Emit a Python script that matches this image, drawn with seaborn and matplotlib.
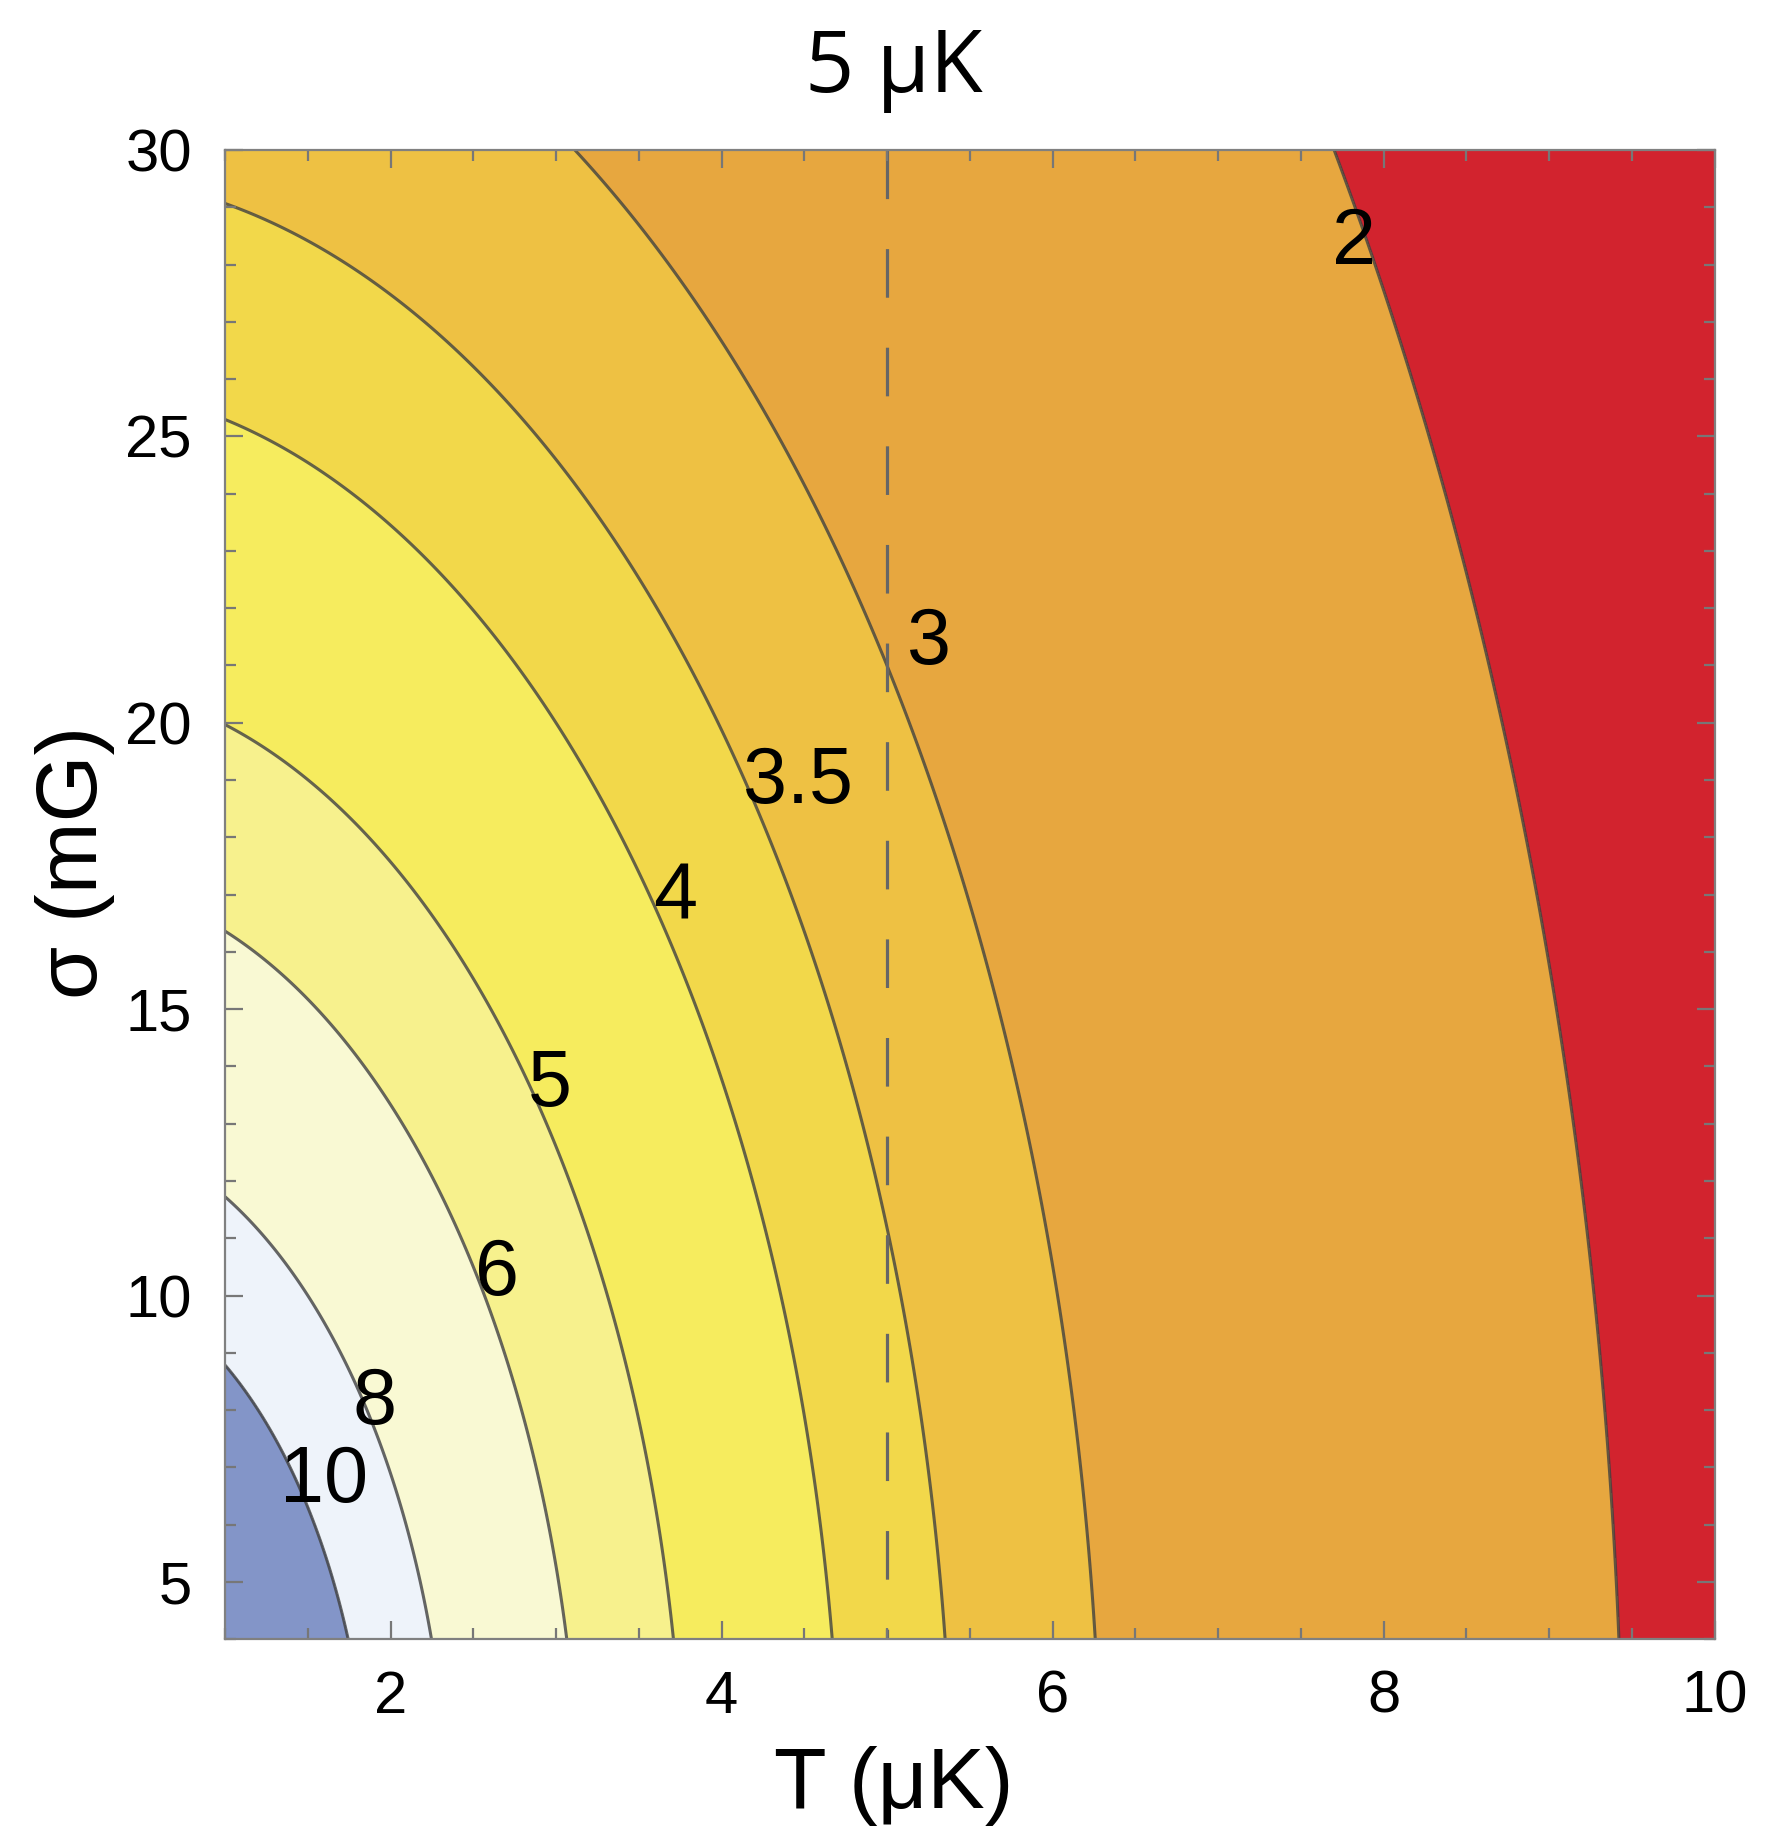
import numpy as np
import matplotlib
matplotlib.use("Agg")
import matplotlib.pyplot as plt
import seaborn as sns

# ---- data ----
T_limits = [1, 10]           # T (μK)
sigma_limits = [4, 30]       # σ (mG)
amplitude = 18.9
sigma_scale = 30.0
levels = [2, 3, 3.5, 4, 5, 6, 8, 10]
level_labels = ["2", "3", "3.5", "4", "5", "6", "8", "10"]
band_colors = ["#D2232E", "#E7A73F", "#EEC143", "#F2D84A", "#F6EC5E",
               "#F7F18D", "#F9F9D3", "#EEF3FA", "#8395C8"]
label_T = [7.82, 5.25, 4.46, 3.72, 2.96, 2.64, 1.90, 1.60]
label_sigma = [28.37, 21.38, 18.95, 16.94, 13.67, 10.36, 8.11, 6.76]
x_major = [2, 4, 6, 8, 10]
y_major = [5, 10, 15, 20, 25, 30]
marker_T = 5
title = "5 μK"
xlabel = "T (μK)"
ylabel = "σ (mG)"

sns.set_theme(style="ticks")
plt.rcParams["font.family"] = ["Liberation Sans", "DejaVu Sans"]
plt.rcParams["lines.scale_dashes"] = False
plt.rcParams["text.color"] = "black"

fig = plt.figure(figsize=(17.87, 18.47), dpi=100)
ax = fig.add_axes([0.126, 0.1125, 0.8335, 0.8063])
ax.set_axisbelow(False)

T = np.linspace(T_limits[0], T_limits[1], 600)
S = np.linspace(sigma_limits[0], sigma_limits[1], 600)
TT, SS = np.meshgrid(T, S)
Z = amplitude / np.sqrt(TT**2 + SS**2 / sigma_scale)

fill_levels = [Z.min() - 1] + levels + [Z.max() + 1]
ax.contourf(TT, SS, Z, levels=fill_levels, colors=band_colors, zorder=0.2)
ax.contour(TT, SS, Z, levels=levels, colors="#404040", linewidths=2.2, alpha=0.8,
           zorder=0.3)

for txt, tx, sy in zip(level_labels, label_T, label_sigma):
    ax.text(tx, sy, txt, fontsize=57, ha="center", va="center", color="black",
            zorder=4)

ax.plot([marker_T, marker_T], [sigma_limits[1], sigma_limits[0]], color="#666666",
        lw=2.3, dashes=(35, 36), zorder=0.4)

ax.set_xlim(*T_limits)
ax.set_ylim(*sigma_limits)
ax.set_xticks(x_major)
ax.set_yticks(y_major)
ax.set_xticks(np.arange(1, 10.01, 0.5), minor=True)
ax.set_yticks(np.arange(4, 30.01, 1), minor=True)
ax.tick_params(which="both", direction="in", top=True, right=True,
               color="#777777", width=1.6, labelsize=43, labelcolor="black")
ax.tick_params(which="major", length=13)
ax.tick_params(which="minor", length=8)
ax.tick_params(axis="x", which="major", pad=22)
ax.tick_params(axis="y", which="major", pad=24)
for sp in ax.spines.values():
    sp.set_color("#808080")
    sp.set_linewidth(1.6)
    sp.set_zorder(5)

fig.text(0.5, 1 - 70 / 1847, title, fontsize=62, ha="center", va="center",
         color="black", family=["Open Sans", "DejaVu Sans"])
fig.text(0.5, 1 - 1786 / 1847, xlabel, fontsize=62, ha="center", va="center",
         color="black")
fig.text(0.042, 1 - 862 / 1847, ylabel, fontsize=62, ha="center", va="center",
         rotation=90, color="black")

fig.savefig("out.png", dpi=100)
